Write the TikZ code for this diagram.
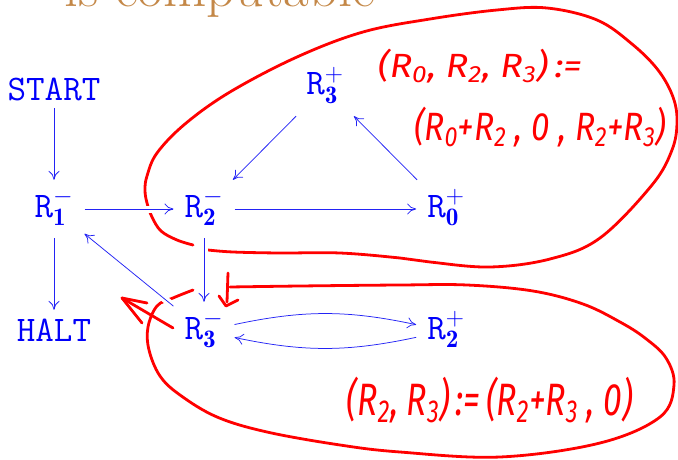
\RequirePackage{fix-cm}
\documentclass[tikz,border=0pt]{standalone}
\usepackage{fontspec}
\usepackage{graphicx}
\newfontfamily\hand{Fira Sans}
\usetikzlibrary{arrows.meta}
\definecolor{nodeblue}{RGB}{0,0,250}
\definecolor{lineblue}{RGB}{35,35,245}
\definecolor{titlebrown}{RGB}{196,136,72}
\definecolor{inkred}{RGB}{255,0,0}
\tikzset{
  reg/.style={text=nodeblue, font=\fontsize{36}{40}\selectfont\ttfamily,
    inner xsep=11pt, inner ysep=0pt, text height=37pt, text depth=21pt, anchor=base},
  word/.style={text=nodeblue, font=\fontsize{36}{40}\selectfont\ttfamily,
    inner xsep=4pt, inner ysep=0pt, text height=31pt, text depth=8pt, anchor=base},
  titletext/.style={text=titlebrown, font=\fontsize{56}{60}\selectfont, inner sep=0pt, anchor=base west},
  flow/.style={draw=lineblue, line width=0.75pt,
    -{Computer Modern Rightarrow[length=9pt,width=11pt]}},
  gap/.style={preaction={draw=white, line width=7pt, -}},
  ink/.style={draw=inkred, line width=2.8pt, line cap=round, line join=round},
  note/.style={text=inkred, font=\hand\itshape\fontsize{28}{32}\selectfont, inner sep=0pt}
}
\begin{document}
\begin{tikzpicture}[x=1pt,y=-1pt]
\useasboundingbox (0,0) rectangle (678,460);

% title (cut off at the top)
\node[titletext] (title) at (64,7) {is computable};

% red annotation loops
\draw[ink] plot[smooth, tension=0.6] coordinates {
  (208,250) (233,252) (280,253) (340,253) (400,258) (430,262) (490,267)
  (550,259) (600,238) (652,185) (672,150) (677,122) (673,97) (658,70)
  (632,44) (597,20) (547,8) (497,10) (430,19) (363,32) (297,57) (230,92)
  (185,124) (157,153) (147,176) (145,190) (147,203) (152,217) (161,231)
  (177,240) (193,245)};
\draw[ink] plot[smooth, tension=0.6] coordinates {
  (193,290) (173,298) (157,306) (148,327) (149,350) (160,376) (180,395)
  (217,417) (267,432) (340,445) (400,452) (500,457) (600,443) (660,417)
  (674,385) (666,358) (645,338) (620,322) (583,304) (533,291) (467,285)
  (400,285) (300,286) (230,287)};
% small red down arrow
\draw[ink] (228,273) -- (227,302);
\draw[ink] (219,296) -- (226,306) -- (238,300);
% big red arrow
\draw[ink] (173,328) -- (122,298);
\draw[ink] (147,303) -- (122,298) -- (142,323);

% red notes
\node[note] (n1) at (480,66) {\resizebox*{204pt}{34pt}{(R\textsubscript{0}, R\textsubscript{2}, R\textsubscript{3})\,:=}};
\node[note] (n2) at (540,127) {\resizebox*{252pt}{40pt}{(R\textsubscript{0}+R\textsubscript{2} , 0 , R\textsubscript{2}+R\textsubscript{3})}};
\node[note] (n3) at (490,400) {\resizebox*{286pt}{46pt}{(R\textsubscript{2}, R\textsubscript{3})\,:=\,(R\textsubscript{2}+R\textsubscript{3} , 0)}};

% nodes
\node[word] (start) at (54,100) {START};
\node[reg] (r1m) at (54,217) {R$^{-}_{\mathbf{1}}$};
\node[word] (halt) at (54,341) {HALT};
\node[reg] (r2m) at (204,217) {R$^{-}_{\mathbf{2}}$};
\node[reg] (r3p) at (325,95) {R$^{+}_{\mathbf{3}}$};
\node[reg] (r0p) at (446,217) {R$^{+}_{\mathbf{0}}$};
\node[reg] (r3m) at (204,339) {R$^{-}_{\mathbf{3}}$};
\node[reg] (r2p) at (446,339) {R$^{+}_{\mathbf{2}}$};

% connectors
\draw[flow] (start) -- (r1m);
\draw[flow] (r1m) -- (halt);
\draw[flow,gap] (r1m) -- (r2m);
\draw[flow] (r2m) -- (r0p);
\draw[flow] (r0p) -- (r3p);
\draw[flow] (r3p) -- (r2m);
\draw[flow,gap] (r2m) -- (r3m);
\draw[flow,gap] (r3m) -- (r1m);
\draw[flow] (r3m) to[bend left=12] (r2p);
\draw[flow] (r2p) to[bend left=12] (r3m);
\end{tikzpicture}
\end{document}
